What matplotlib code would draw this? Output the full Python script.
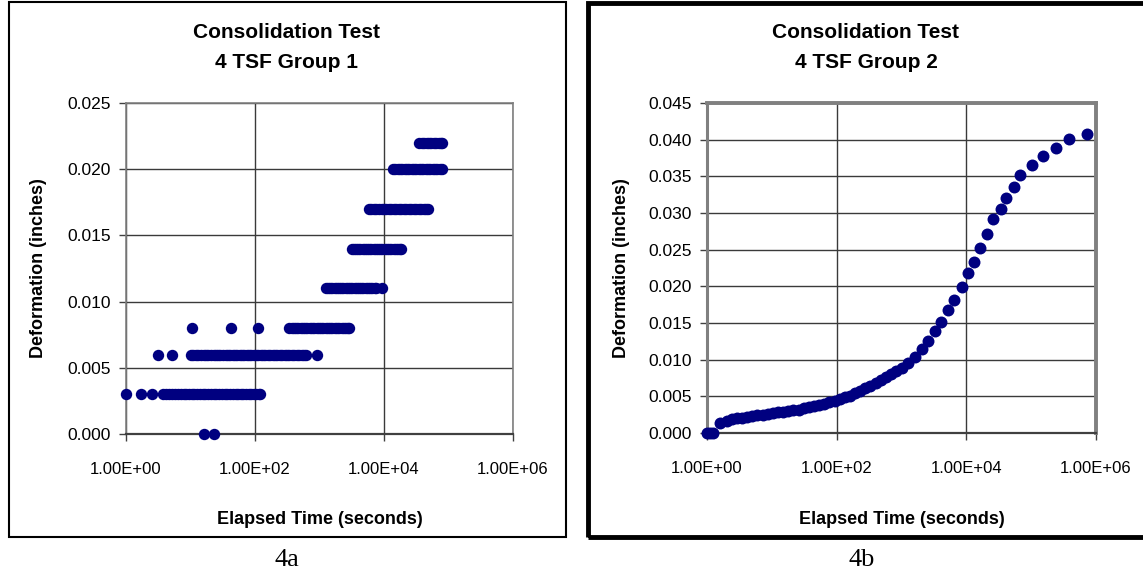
import matplotlib
import matplotlib.pyplot as plt
from matplotlib.patches import Rectangle
from matplotlib.ticker import FuncFormatter, NullLocator

matplotlib.use("Agg")
plt.rcParams["font.family"] = ["Liberation Sans", "DejaVu Sans"]

# Group 1: deformation readings sit on a few discrete levels (inches)
g1_levels = [0.000, 0.003, 0.006, 0.008, 0.011, 0.014, 0.017, 0.020, 0.022]
g1_times = [
    [16, 23],
    [1, 1.7, 2.5, 3.8, 4.2, 4.6, 5.2, 5.8, 6.4, 7.1, 7.8, 8.6, 9.5, 10.5,
     11.5, 12.5, 14, 15.5, 17, 19, 21, 23, 25, 28, 31, 34, 37, 41, 45, 50,
     55, 60, 66, 72, 80, 88, 96, 105, 115, 120],
    [3.1, 5.1, 10, 11, 12, 13, 14.5, 16, 17.5, 19, 21, 23, 25, 27, 29, 32,
     35, 38, 41, 45, 49, 53, 58, 63, 68, 74, 80, 87, 95, 103, 112, 122, 133,
     145, 158, 172, 187, 204, 222, 242, 264, 288, 314, 342, 373, 406, 443,
     483, 527, 575, 615, 915],
    [10.5, 43, 113, 340, 370, 400, 435, 470, 510, 555, 600, 650, 705, 765,
     830, 900, 975, 1060, 1150, 1245, 1350, 1465, 1590, 1725, 1870, 2030,
     2200, 2390, 2590, 2800, 2900],
    [1250, 1350, 1460, 1580, 1710, 1850, 2000, 2170, 2350, 2540, 2750, 2980,
     3230, 3500, 3790, 4100, 4440, 4810, 5210, 5640, 6110, 6620, 7170, 7550,
     9400],
    [3150, 3400, 3680, 3980, 4310, 4660, 5040, 5460, 5900, 6390, 6910, 7480,
     8090, 8750, 9470, 10250, 11090, 12000, 12990, 14050, 15200, 16450,
     17500, 18600],
    [5850, 6400, 7000, 7650, 8370, 9150, 10000, 10900, 11900, 13000, 14200,
     15500, 17000, 18600, 20300, 22200, 24300, 26500, 29000, 31700, 34700,
     37900, 41400, 45300, 48000],
    [13800, 15000, 16300, 17700, 19200, 20900, 22700, 24700, 26800, 29100,
     31700, 34400, 37400, 40700, 44200, 48000, 52200, 56700, 61700, 67000,
     72900, 79000],
    [35300, 38500, 42000, 45800, 50000, 54500, 59500, 64900, 70800, 77200,
     79000],
]

# Group 2: time (s) and deformation (inches)
g2_time = [1.0, 1.1, 1.25, 1.6, 2.0, 2.4, 2.9, 3.5, 4.2, 5.0, 6.0, 7.2, 8.6,
           10.3, 12.4, 14.9, 17.9, 21.5, 25.8, 31, 37, 45, 54, 64, 77, 93,
           111, 134, 160, 192, 231, 277, 332, 399, 479, 575, 690, 830, 1000,
           1260, 1600, 2040, 2590, 3250, 4060, 5270, 6500, 8500, 10500, 13300,
           16300, 20600, 26200, 34000, 41000, 53500, 66500, 102000, 150000,
           240000, 380000, 735000]
g2_def = [0.0, 0.0, 0.0, 0.0013, 0.0017, 0.0019, 0.0020, 0.0021, 0.0022,
          0.0023, 0.0024, 0.0025, 0.0026, 0.0027, 0.0028, 0.0029, 0.0030,
          0.0031, 0.0032, 0.0034, 0.0035, 0.0037, 0.0038, 0.0040, 0.0042,
          0.0044, 0.0046, 0.0049, 0.0051, 0.0054, 0.0057, 0.0061, 0.0064,
          0.0068, 0.0072, 0.0076, 0.0080, 0.0084, 0.0089, 0.0095, 0.0104,
          0.0114, 0.0126, 0.0139, 0.0152, 0.0168, 0.0181, 0.0199, 0.0218,
          0.0233, 0.0252, 0.0272, 0.0292, 0.0306, 0.0320, 0.0336, 0.0352,
          0.0365, 0.0378, 0.0389, 0.0401, 0.0408]

x_ticks = [1, 1e2, 1e4, 1e6]
navy = "#000080"
W, H = 1143, 577


def px_axes(fig, x0, y0, x1, y1):
    return fig.add_axes([x0 / W, (H - y1) / H, (x1 - x0) / W, (y1 - y0) / H])


def style_axes(ax, ymax, ystep):
    ax.set_xscale("log")
    ax.set_xlim(1, 1e6)
    ax.set_ylim(0, ymax)
    ax.set_xticks(x_ticks)
    ax.xaxis.set_minor_locator(NullLocator())
    n = int(round(ymax / ystep))
    ax.set_yticks([i * ystep for i in range(n + 1)])
    ax.xaxis.set_major_formatter(FuncFormatter(lambda v, p: f"{v:.2E}"))
    ax.yaxis.set_major_formatter(FuncFormatter(lambda v, p: f"{v:.3f}"))
    ax.tick_params(axis="x", direction="out", length=5, width=1,
                   color="#404040", pad=15, labelsize=12)
    ax.tick_params(axis="y", direction="out", length=5, width=1,
                   color="#404040", pad=6, labelsize=12.5)
    ax.grid(True, which="major", color="#3a3a3a", linewidth=1.0)
    ax.set_axisbelow(True)


def panel_text(fig, cx, group):
    fig.text(cx / W, 1 - 33 / H, "Consolidation Test", ha="center",
             va="center", fontsize=15, fontweight="bold")
    fig.text(cx / W, 1 - 62 / H, f"4 TSF Group {group}", ha="center",
             va="center", fontsize=15, fontweight="bold")


fig = plt.figure(figsize=(W / 100, H / 100), dpi=100)

# outer chart borders
fig.patches.append(Rectangle((9 / W, (H - 537) / H), 557 / W, 535 / H,
                             transform=fig.transFigure, fill=False,
                             edgecolor="black", linewidth=1.5))
fig.patches.append(Rectangle((588 / W, (H - 537) / H), 600 / W, 534 / H,
                             transform=fig.transFigure, fill=False,
                             edgecolor="black", linewidth=3.5))

# left panel (4a)
ax1 = px_axes(fig, 126, 103, 513, 434)
style_axes(ax1, 0.025, 0.005)
for lvl, ts in zip(g1_levels, g1_times):
    ax1.plot(ts, [lvl] * len(ts), "o", color=navy, markersize=8.2,
             markeredgewidth=0, clip_on=False, zorder=3)
for side in ["top", "right", "left"]:
    ax1.spines[side].set_color("#808080")
    ax1.spines[side].set_linewidth(1.2)
ax1.spines["bottom"].set_color("#404040")
ax1.spines["bottom"].set_linewidth(1.6)

panel_text(fig, 287, 1)
fig.text(39 / W, 1 - 268 / H, "Deformation (inches)", rotation=90,
         ha="center", va="center", fontsize=13, fontweight="bold")
fig.text(320 / W, 1 - 519 / H, "Elapsed Time (seconds)", ha="center",
         va="center", fontsize=13, fontweight="bold")

# right panel (4b)
ax2 = px_axes(fig, 707, 103, 1096, 433)
style_axes(ax2, 0.045, 0.005)
ax2.plot(g2_time, g2_def, "o", color=navy, markersize=8.6,
         markeredgewidth=0, clip_on=False, zorder=3)
for side in ["top", "right"]:
    ax2.spines[side].set_color("#808080")
    ax2.spines[side].set_linewidth(2.8)
ax2.spines["left"].set_color("#808080")
ax2.spines["left"].set_linewidth(2.2)
ax2.spines["bottom"].set_color("#404040")
ax2.spines["bottom"].set_linewidth(1.6)

panel_text(fig, 866, 2)
fig.text(622 / W, 1 - 268 / H, "Deformation (inches)", rotation=90,
         ha="center", va="center", fontsize=13, fontweight="bold")
fig.text(902 / W, 1 - 519 / H, "Elapsed Time (seconds)", ha="center",
         va="center", fontsize=13, fontweight="bold")

# figure captions
fig.text(287 / W, 1 - 560 / H, "4a", ha="center", va="center",
         fontsize=19, family=["Liberation Serif", "DejaVu Serif"])
fig.text(862 / W, 1 - 560 / H, "4b", ha="center", va="center",
         fontsize=19, family=["Liberation Serif", "DejaVu Serif"])

fig.savefig("out.png", dpi=100)
